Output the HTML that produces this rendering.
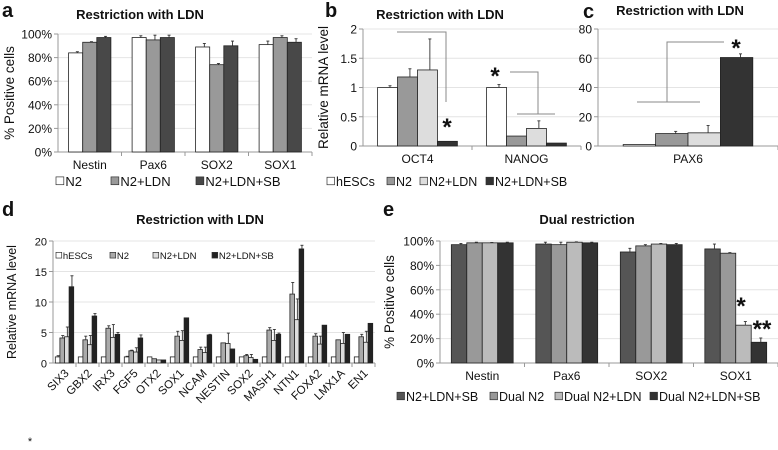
<!DOCTYPE html>
<html><head><meta charset="utf-8"><style>
body{margin:0;background:#fff;width:778px;height:445px;overflow:hidden}
svg{font-family:"Liberation Sans",Arial,sans-serif}
</style></head><body>
<svg id="fig" width="778" height="445"></svg>
<script>
// Panel a
const aCats=["Nestin","Pax6","SOX2","SOX1"];
const aN2=[84,97,89,91], aN2e=[1,1.5,3,3];
const aLDN=[93,95,74,97], aLDNe=[0.5,4,1,1.5];
const aSB=[97,97,90,93], aSBe=[1,2,4,3];
// Panel b
const bCats=["OCT4","NANOG"];
const bES=[1,1],bESe=[0.03,0.05];
const bN2=[1.18,0.17],bN2e=[0.14,0];
const bLDN=[1.3,0.3],bLDNe=[0.53,0.13];
const bSB=[0.08,0.05],bSBe=[0,0];
// Panel c
const cCats=["PAX6"];
const cES=[1],cN2=[8.5],cLDN=[9],cSB=[60.5];
const cESe=[0],cN2e=[1.5],cLDNe=[5],cSBe=[2.5];
// Panel d
const dCats=["SIX3","GBX2","IRX3","FGF5","OTX2","SOX1","NCAM","NESTIN","SOX2","MASH1","NTN1","FOXA2","LMX1A","EN1"];
const dES=[1,1,1,1,1,1,1,1,1,1,1,1,1,1];
const dESe=[0.2,0,0,0.1,0,0,0,0,0,0,0,0,0,0];
const dN2=[4.1,3.8,5.7,2.0,0.7,4.4,2.2,3.3,1.2,5.4,11.3,4.4,3.8,4.3];
const dN2e=[0.4,0.6,0.4,0.1,0,0.8,0.4,0,0.2,0.4,1.9,0.4,0,0.4];
const dLDN=[4.3,3.0,4.2,1.8,0.5,3.7,1.7,3.2,0.9,3.7,7.1,3.1,3.2,3.4];
const dLDNe=[1.6,1.5,2.1,0.7,0,1.6,0.9,1.7,0.5,1.8,3.4,1.3,1.8,1.8];
const dSB=[12.5,7.7,4.7,4.1,0.5,7.4,4.6,2.3,0.6,4.7,18.7,6.2,4.7,6.5];
const dSBe=[1.8,0.4,0.3,0.5,0,0,0.1,0,0,0.2,0.6,0,0,0];
// Panel e
const eCats=["Nestin","Pax6","SOX2","SOX1"];
const eSB=[97,97.5,91,93.5],eSBe=[1,1.5,3,4];
const eD2=[98.5,97,96,90],eD2e=[0.5,2,1,0.5];
const eDL=[98.5,99,97.5,31],eDLe=[0.3,0.3,0.5,3];
const eDS=[98.5,98.5,97,17],eDSe=[0.5,0.5,1,3.5];
const pctTicks=["0%","20%","40%","60%","80%","100%"];

const svg=document.getElementById('fig');
const NS='http://www.w3.org/2000/svg';
function el(tag,at,txt){const e=document.createElementNS(NS,tag);for(const k in at)e.setAttribute(k,at[k]);if(txt!==undefined)e.textContent=txt;svg.appendChild(e);return e;}
function txt(x,y,s,size,anchor,weight,name){const t=el('text',{x:x,y:y,'font-size':size,'text-anchor':anchor||'start','font-weight':weight||'normal',fill:'#111'},s);

return t;}

function panel(p){
  const sy=v=>p.y0-(v/p.max)*(p.y0-p.y1);
  p.ticks.forEach((t,i)=>{const v=p.tickVals[i];const y=sy(v);
    if(v>0){const g=el('line',{x1:p.x0,x2:p.x1,y1:y,y2:y,stroke:'#e4e4e4','stroke-width':1});
    
    }
    const tk=el('line',{x1:p.x0-4,x2:p.x0,y1:y,y2:y,stroke:'#999'});
    
    
    txt(p.x0-6,y+4.5,t,p.fs,'end','normal','y-tick-label');});
  const ax=el('line',{x1:p.x0,x2:p.x0,y1:p.y1,y2:p.y0,stroke:'#999'});
  
  
  const xa=el('line',{x1:p.x0,x2:p.x1,y1:p.y0,y2:p.y0,stroke:'#999'});
  
  
  const n=p.cats.length,cw=(p.x1-p.x0)/n,bw=cw*p.bf;
  p.cats.forEach((c,i)=>{
    const tx=p.x0+cw*(i+1);
    const tk=el('line',{x1:tx,x2:tx,y1:p.y0,y2:p.y0+4,stroke:'#999'});
    
    
    const cx=p.x0+cw*(i+0.5);
    if(p.rot){const t=txt(cx+5,p.y0+11,c,p.fs+0.5,'end','normal','x-tick-label');t.setAttribute('transform','rotate(-45 '+(cx+5)+' '+(p.y0+11)+')');}
    else txt(cx,p.y0+17,c,p.fs,'middle','normal','x-tick-label');
    const gs=p.series.length, start=cx-bw*gs/2;
    p.series.forEach((s,j)=>{
      const v=s.v[i],e=s.e[i],x=start+bw*j;
      const r=el('rect',{x:x,y:sy(v),width:bw,height:p.y0-sy(v),fill:s.c,stroke:'#222','stroke-width':0.8});
      
      
      if(e>0){const ex=x+bw/2+bw*0.12;
        const l=el('line',{x1:ex,x2:ex,y1:sy(v),y2:sy(v+e),stroke:'#333','stroke-width':0.9});
        
        
        const l2=el('line',{x1:ex-1.5,x2:ex+1.5,y1:sy(v+e),y2:sy(v+e),stroke:'#333','stroke-width':0.9});
        
        }
    });
  });
  p.legend.forEach((L,j)=>{const s=p.series[j];
    const r=el('rect',{x:L[0],y:p.ly-p.lfs*0.7,width:p.lfs*0.6,height:p.lfs*0.6,fill:s.c,stroke:'#333','stroke-width':0.7});
    
    
    txt(L[0]+p.lfs*0.72,p.ly,s.n,p.lfs,'start','normal','legend-entry');});
  txt(p.tx,p.ty,p.title,p.tfs||13,'middle','bold','chart-title');
  txt(p.lx,p.lyy,p.letter,20,'start','bold','panel-label');
  if(p.ylab){const t=txt(p.ylx,(p.y0+p.y1)/2,p.ylab,p.fs+1.5,'middle','normal','y-axis-title');t.setAttribute('transform','rotate(-90 '+p.ylx+' '+((p.y0+p.y1)/2)+')');}
  return sy;
}
const W='#fff';
panel({x0:58,x1:312,y0:152,y1:34,max:100,ticks:pctTicks,tickVals:[0,20,40,60,80,100],cats:aCats,bf:0.222,fs:12,
 series:[{n:'N2',v:aN2,e:aN2e,c:W},{n:'N2+LDN',v:aLDN,e:aLDNe,c:'#999'},{n:'N2+LDN+SB',v:aSB,e:aSBe,c:'#484848'}],
 legend:[[56],[111],[196]],ly:186,lfs:13,title:'Restriction with LDN',tx:140,ty:19,letter:'a',lx:2,lyy:17,ylab:'% Positive cells',ylx:14});
panel({x0:363,x1:581,y0:146,y1:29,max:2,ticks:['0','0.5','1','1.5','2'],tickVals:[0,0.5,1,1.5,2],cats:bCats,bf:0.183,fs:12,
 series:[{n:'hESCs',v:bES,e:bESe,c:W},{n:'N2',v:bN2,e:bN2e,c:'#999'},{n:'N2+LDN',v:bLDN,e:bLDNe,c:'#ddd'},{n:'N2+LDN+SB',v:bSB,e:bSBe,c:'#333'}],
 legend:[[327],[387],[420],[486]],ly:186,lfs:12.5,title:'Restriction with LDN',tx:440,ty:19,letter:'b',lx:325,lyy:17,ylab:'Relative mRNA level',ylx:328});
panel({x0:598,x1:778,y0:146,y1:29,max:80,ticks:['0','20','40','60','80'],tickVals:[0,20,40,60,80],cats:cCats,bf:0.18,fs:12,
 series:[{n:'hESCs',v:cES,e:cESe,c:W},{n:'N2',v:cN2,e:cN2e,c:'#999'},{n:'N2+LDN',v:cLDN,e:cLDNe,c:'#ddd'},{n:'N2+LDN+SB',v:cSB,e:cSBe,c:'#333'}],
 legend:[],ly:0,lfs:0,title:'Restriction with LDN',tx:680,ty:15,letter:'c',lx:583,lyy:18});
panel({x0:53,x1:375,y0:363,y1:241,max:20,ticks:['0','5','10','15','20'],tickVals:[0,5,10,15,20],cats:dCats,bf:0.2,fs:11,rot:true,
 series:[{n:'hESCs',v:dES,e:dESe,c:W},{n:'N2',v:dN2,e:dN2e,c:'#aaa'},{n:'N2+LDN',v:dLDN,e:dLDNe,c:'#ddd'},{n:'N2+LDN+SB',v:dSB,e:dSBe,c:'#222'}],
 legend:[[56],[110],[153],[212]],ly:259,lfs:9.5,title:'Restriction with LDN',tx:200,ty:224,letter:'d',lx:2,lyy:216,ylab:'Relative mRNA level',ylx:16});
panel({x0:440,x1:778,y0:363,y1:241,max:100,ticks:pctTicks,tickVals:[0,20,40,60,80,100],cats:eCats,bf:0.183,fs:12,
 series:[{n:'N2+LDN+SB',v:eSB,e:eSBe,c:'#555'},{n:'Dual N2',v:eD2,e:eD2e,c:'#999'},{n:'Dual N2+LDN',v:eDL,e:eDLe,c:'#bbb'},{n:'Dual N2+LDN+SB',v:eDS,e:eDSe,c:'#333'}],
 legend:[[397],[490],[555],[650]],ly:401,lfs:12.5,title:'Dual restriction',tx:587,ty:224,letter:'e',lx:383,lyy:216,ylab:'% Positive cells',ylx:394});
function pl(pts,name){const p=el('polyline',{points:pts,fill:'none',stroke:'#888','stroke-width':1});
 
 }
pl('397,32 446,32 446,102','bracket-oct4');
pl('510,72 538,72 538,114','bracket-nanog');
pl('517,114 555,114','bracket-nanog-base');
pl('637,102 700,102','bracket-pax6-base');
pl('667,102 667,42 724,42','bracket-pax6');
txt(447,135,'*',24,'middle','bold','significance-star');
txt(495,84,'*',24,'middle','bold','significance-star');
txt(736,56,'*',24,'middle','bold','significance-star');
txt(741,314,'*',24,'middle','bold','significance-star');
txt(762,337,'**',24,'middle','bold','significance-star');
txt(30,445,'*',11,'middle','normal','footnote-star');
</script>
</body></html>
